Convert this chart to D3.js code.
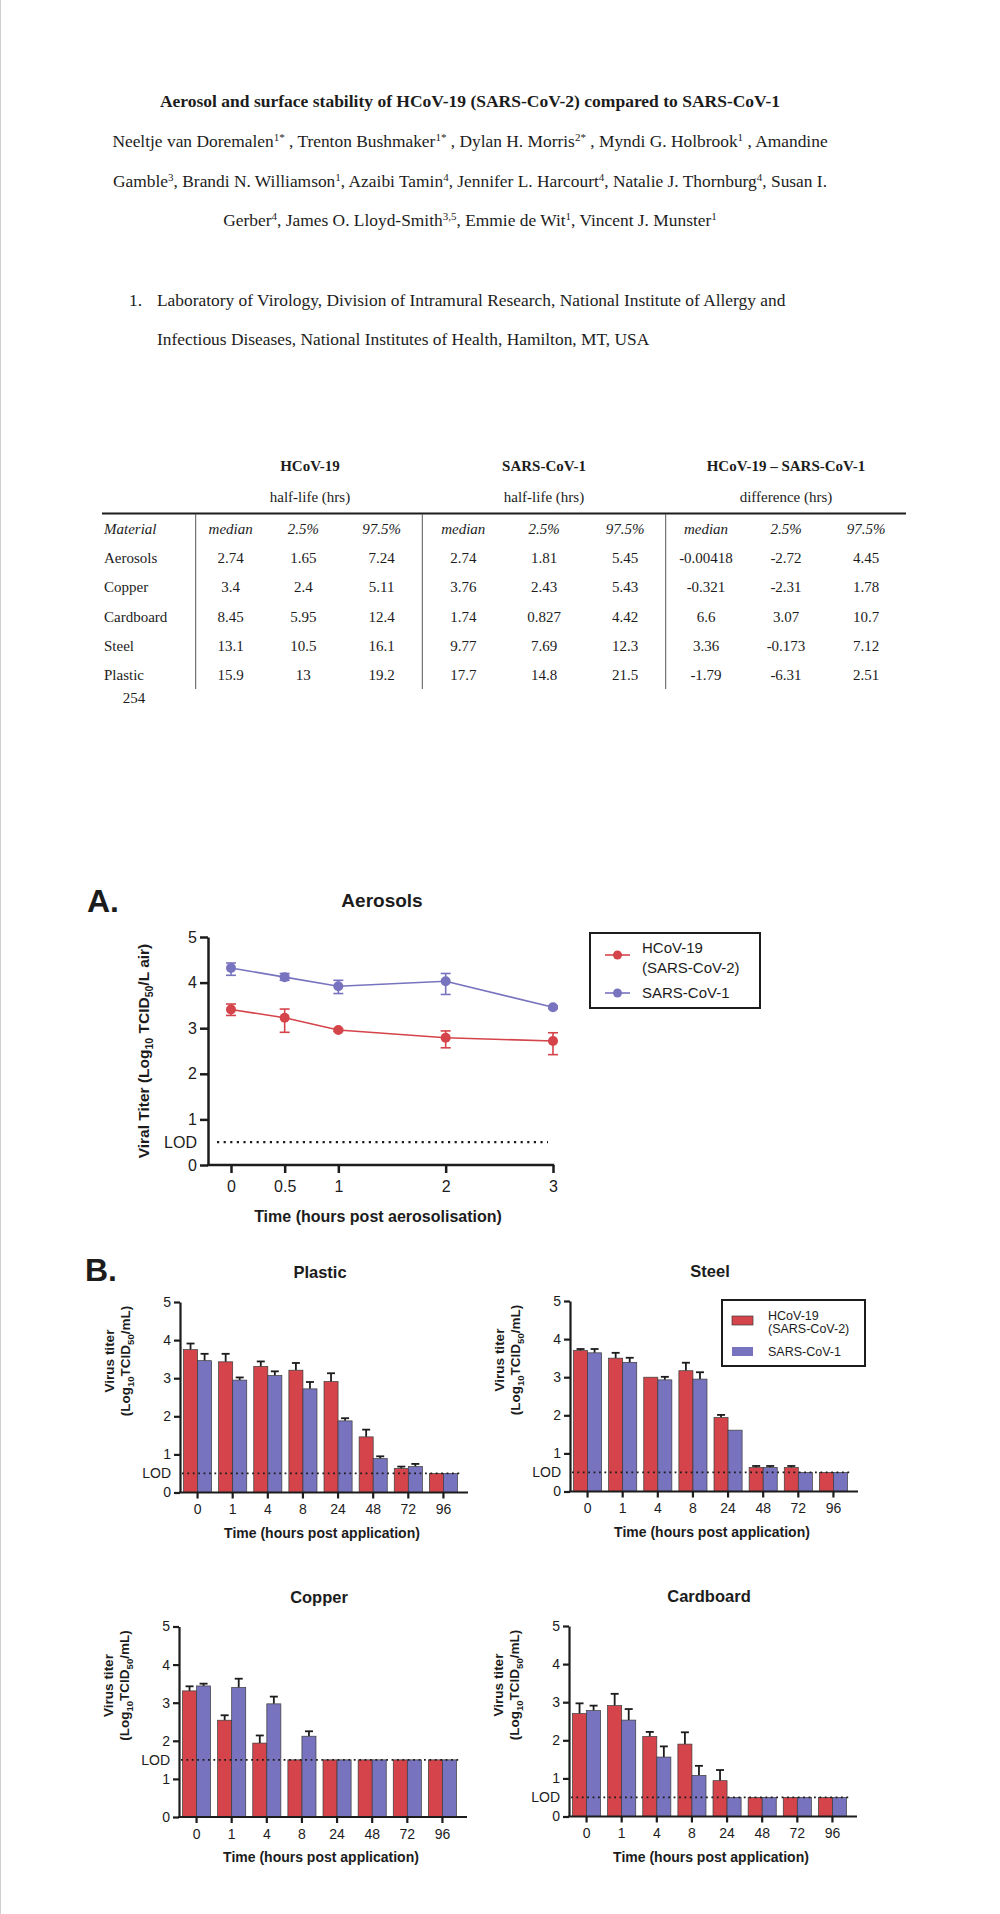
<!doctype html>
<html lang="en">
<head>
<meta charset="utf-8">
<title>Aerosol and surface stability of HCoV-19 (SARS-CoV-2) compared to SARS-CoV-1</title>
<script src="https://d3js.org/d3.v7.min.js"></script>
<style>
  body { margin: 0; background: #fff; }
  svg text { fill: #1c1c1c; }
  .serif { font-family: "Liberation Serif", "Times New Roman", serif; }
  .sans { font-family: "Liberation Sans", Arial, sans-serif; }
</style>
</head>
<body>
<div id="page"></div>
<script>
// ---------- table data ----------
const tableGroups = ['HCoV-19', 'SARS-CoV-1', 'HCoV-19 \u2013 SARS-CoV-1'];
const tableUnits = ['half-life (hrs)', 'half-life (hrs)', 'difference (hrs)'];
const tableStats = ['median', '2.5%', '97.5%'];
const tableRows = ['Aerosols', 'Copper', 'Cardboard', 'Steel', 'Plastic'];
const cov2HalfLife = [['2.74','1.65','7.24'], ['3.4','2.4','5.11'], ['8.45','5.95','12.4'], ['13.1','10.5','16.1'], ['15.9','13','19.2']];
const cov1HalfLife = [['2.74','1.81','5.45'], ['3.76','2.43','5.43'], ['1.74','0.827','4.42'], ['9.77','7.69','12.3'], ['17.7','14.8','21.5']];
const halfLifeDiff = [['-0.00418','-2.72','4.45'], ['-0.321','-2.31','1.78'], ['6.6','3.07','10.7'], ['3.36','-0.173','7.12'], ['-1.79','-6.31','2.51']];

// ---------- panel A: aerosols ----------
const aeroTimes = [0, 0.5, 1, 2, 3];
const aeroCov2 = [3.41, 3.23, 2.96, 2.79, 2.72];
const aeroCov2Lo = [3.28, 2.91, 2.93, 2.57, 2.42];
const aeroCov2Hi = [3.53, 3.42, 2.99, 2.94, 2.90];
const aeroCov1 = [4.32, 4.12, 3.92, 4.03, 3.46];
const aeroCov1Lo = [4.16, 4.05, 3.76, 3.74, 3.43];
const aeroCov1Hi = [4.43, 4.20, 4.05, 4.20, 3.49];
const aeroLod = 0.5;

// ---------- panel B: surfaces ----------
const surfTimes = ['0', '1', '4', '8', '24', '48', '72', '96'];
const yTicks = [0, 1, 2, 3, 4, 5];
const plasticCov2 = [3.75, 3.43, 3.31, 3.21, 2.91, 1.46, 0.63, 0.5];
const plasticCov2Err = [3.91, 3.64, 3.44, 3.40, 3.13, 1.65, 0.68, null];
const plasticCov1 = [3.46, 2.95, 3.07, 2.72, 1.88, 0.89, 0.68, 0.5];
const plasticCov1Err = [3.64, 3.02, 3.18, 2.90, 1.95, 0.95, 0.75, null];
const steelCov2 = [3.70, 3.50, 3.00, 3.17, 1.94, 0.63, 0.63, 0.5];
const steelCov2Err = [3.74, 3.64, null, 3.38, 2.01, 0.67, 0.67, null];
const steelCov1 = [3.64, 3.39, 2.93, 2.95, 1.61, 0.63, 0.5, 0.5];
const steelCov1Err = [3.74, 3.51, 3.01, 3.13, null, 0.67, null, null];
const copperCov2 = [3.31, 2.54, 1.94, 1.5, 1.5, 1.5, 1.5, 1.5];
const copperCov2Err = [3.43, 2.67, 2.14, null, null, null, null, null];
const copperCov1 = [3.44, 3.40, 2.97, 2.12, 1.5, 1.5, 1.5, 1.5];
const copperCov1Err = [3.50, 3.63, 3.16, 2.25, null, null, null, null];
const cardCov2 = [2.70, 2.91, 2.10, 1.90, 0.94, 0.5, 0.5, 0.5];
const cardCov2Err = [2.97, 3.22, 2.22, 2.21, 1.22, null, null, null];
const cardCov1 = [2.78, 2.53, 1.56, 1.08, 0.5, 0.5, 0.5, 0.5];
const cardCov1Err = [2.91, 2.82, 1.84, 1.33, null, null, null, null];

const RED = '#d4444a';
const PURPLE = '#7873bf';
const INK = '#1c1c1c';

const svg = d3.select('#page').append('svg')
    .attr('width', 1000)
    .attr('height', 1914);

// faint page edge
svg.append('line')
    .attr('x1', 0.5).attr('x2', 0.5).attr('y1', 0).attr('y2', 1914)
    .attr('stroke', '#cfcfcf');

// text with superscripts / subscripts: parts = [[text, 'sup'|'sub'|undefined]]
function richText(sel, parts, small) {
    parts.forEach(function(p) {
        const t = sel.append('tspan').text(p[0]);
        if (p[1]) {
            t.attr('font-size', small).attr('baseline-shift', p[1] === 'sup' ? 'super' : 'sub');
        }
    });
    return sel;
}

// ---------- header ----------
const headCx = 470;
svg.append('text').attr('class', 'serif')
    .attr('x', headCx).attr('y', 107)
    .attr('text-anchor', 'middle')
    .attr('font-size', 17.5).attr('font-weight', 'bold')
    .text('Aerosol and surface stability of HCoV-19 (SARS-CoV-2) compared to SARS-CoV-1');

const authorLines = [
    [['Neeltje van Doremalen'], ['1*', 'sup'], [' , Trenton Bushmaker'], ['1*', 'sup'], [' , Dylan H. Morris'], ['2*', 'sup'], [' , Myndi G. Holbrook'], ['1', 'sup'], [' , Amandine']],
    [['Gamble'], ['3', 'sup'], [', Brandi N. Williamson'], ['1', 'sup'], [', Azaibi Tamin'], ['4', 'sup'], [', Jennifer L. Harcourt'], ['4', 'sup'], [', Natalie J. Thornburg'], ['4', 'sup'], [', Susan I.']],
    [['Gerber'], ['4', 'sup'], [', James O. Lloyd-Smith'], ['3,5', 'sup'], [', Emmie de Wit'], ['1', 'sup'], [', Vincent J. Munster'], ['1', 'sup']]
];
authorLines.forEach(function(parts, i) {
    richText(svg.append('text').attr('class', 'serif')
        .attr('x', headCx).attr('y', 147 + i * 39.5)
        .attr('text-anchor', 'middle')
        .attr('font-size', 17.4), parts, 11);
});

svg.append('text').attr('class', 'serif')
    .attr('x', 129).attr('y', 306).attr('font-size', 17.4).text('1.');
svg.append('text').attr('class', 'serif')
    .attr('x', 157).attr('y', 306).attr('font-size', 17.4)
    .text('Laboratory of Virology, Division of Intramural Research, National Institute of Allergy and');
svg.append('text').attr('class', 'serif')
    .attr('x', 157).attr('y', 345).attr('font-size', 17.4)
    .text('Infectious Diseases, National Institutes of Health, Hamilton, MT, USA');

// ---------- table ----------
const table = svg.append('g').attr('class', 'serif').attr('font-size', 15);
const colX = [230.7, 303.3, 381.7, 463.3, 544, 625, 706, 786, 866];
const groupX = [310, 544, 786];
const sepX = [195.7, 422.3, 665.7];
const rowY = function(i) { return 534 + i * 29.2; };

tableGroups.forEach(function(g, i) {
    table.append('text').attr('x', groupX[i]).attr('y', 471)
        .attr('text-anchor', 'middle').attr('font-weight', 'bold').text(g);
    table.append('text').attr('x', groupX[i]).attr('y', 502)
        .attr('text-anchor', 'middle').text(tableUnits[i]);
});
table.append('line')
    .attr('x1', 102).attr('x2', 906).attr('y1', 513.5).attr('y2', 513.5)
    .attr('stroke', INK).attr('stroke-width', 2);
sepX.forEach(function(x) {
    table.append('line')
        .attr('x1', x).attr('x2', x).attr('y1', 514).attr('y2', 689)
        .attr('stroke', '#555').attr('stroke-width', 1);
});
table.append('text').attr('x', 104).attr('y', rowY(0))
    .attr('font-style', 'italic').text('Material');
colX.forEach(function(x, j) {
    table.append('text').attr('x', x).attr('y', rowY(0))
        .attr('text-anchor', 'middle').attr('font-style', 'italic')
        .text(tableStats[j % 3]);
});
tableRows.forEach(function(r, i) {
    table.append('text').attr('x', 104).attr('y', rowY(i + 1)).text(r);
    const vals = cov2HalfLife[i].concat(cov1HalfLife[i], halfLifeDiff[i]);
    vals.forEach(function(v, j) {
        table.append('text').attr('x', colX[j]).attr('y', rowY(i + 1))
            .attr('text-anchor', 'middle').text(v);
    });
});
table.append('text').attr('x', 134).attr('y', 703)
    .attr('text-anchor', 'middle').text('254');

// ---------- axis styling helper ----------
function styleAxis(g, fontSize, width) {
    g.selectAll('path, line').attr('stroke', INK).attr('stroke-width', width);
    g.selectAll('text').attr('class', 'sans').attr('font-size', fontSize).attr('fill', INK);
}

// ---------- panel A ----------
const A = svg.append('g').attr('class', 'sans');
A.append('text').attr('x', 87).attr('y', 912)
    .attr('font-size', 32).attr('font-weight', 'bold').text('A.');
A.append('text').attr('x', 382).attr('y', 907)
    .attr('text-anchor', 'middle').attr('font-size', 19).attr('font-weight', 'bold').text('Aerosols');

const ax = d3.scaleLinear().domain([0, 3]).range([231, 553]);
const ay = d3.scaleLinear().domain([0, 5]).range([1165, 937]);

const ayAxis = A.append('g').attr('transform', 'translate(208,0)')
    .call(d3.axisLeft(ay).tickValues(yTicks).tickFormat(d3.format('d'))
        .tickSize(8).tickSizeOuter(0).tickPadding(3));
styleAxis(ayAxis, 16, 2.5);
const axAxis = A.append('g').attr('transform', 'translate(0,1165)')
    .call(d3.axisBottom(ax).tickValues(aeroTimes).tickSize(8).tickSizeOuter(0).tickPadding(8).tickFormat(d3.format('')));
axAxis.select('.domain').remove();
styleAxis(axAxis, 16, 2.5);
A.append('line')
    .attr('x1', 207).attr('x2', ax(3) + 1.2).attr('y1', ay(0)).attr('y2', ay(0))
    .attr('stroke', INK).attr('stroke-width', 2.5);

A.append('line')
    .attr('x1', 217).attr('x2', 548).attr('y1', ay(aeroLod)).attr('y2', ay(aeroLod))
    .attr('stroke', INK).attr('stroke-width', 2.2).attr('stroke-dasharray', '2.2,4.4');
A.append('text').attr('x', 197).attr('y', ay(aeroLod)).attr('dy', '0.35em')
    .attr('text-anchor', 'end').attr('font-size', 16).text('LOD');

const aeroSeries = [
    { color: PURPLE, v: aeroCov1, lo: aeroCov1Lo, hi: aeroCov1Hi },
    { color: RED, v: aeroCov2, lo: aeroCov2Lo, hi: aeroCov2Hi }
];
aeroSeries.forEach(function(s) {
    const pts = aeroTimes.map(function(t, i) { return { t: t, v: s.v[i], lo: s.lo[i], hi: s.hi[i] }; });
    const g = A.append('g');
    g.append('path').datum(pts)
        .attr('fill', 'none').attr('stroke', s.color).attr('stroke-width', 1.6)
        .attr('d', d3.line().x(function(d) { return ax(d.t); }).y(function(d) { return ay(d.v); }));
    const eb = g.selectAll('.err').data(pts).enter().append('g');
    eb.append('line')
        .attr('x1', function(d) { return ax(d.t); }).attr('x2', function(d) { return ax(d.t); })
        .attr('y1', function(d) { return ay(d.lo); }).attr('y2', function(d) { return ay(d.hi); })
        .attr('stroke', s.color).attr('stroke-width', 1.6);
    ['lo', 'hi'].forEach(function(k) {
        eb.append('line')
            .attr('x1', function(d) { return ax(d.t) - 5; }).attr('x2', function(d) { return ax(d.t) + 5; })
            .attr('y1', function(d) { return ay(d[k]); }).attr('y2', function(d) { return ay(d[k]); })
            .attr('stroke', s.color).attr('stroke-width', 1.6);
    });
    g.selectAll('circle').data(pts).enter().append('circle')
        .attr('cx', function(d) { return ax(d.t); }).attr('cy', function(d) { return ay(d.v); })
        .attr('r', 5).attr('fill', s.color);
});

// y label A
richText(A.append('text')
    .attr('transform', 'translate(143,1051) rotate(-90)')
    .attr('text-anchor', 'middle').attr('dominant-baseline', 'central')
    .attr('font-size', 15.5).attr('font-weight', 'bold'),
    [['Viral Titer (Log'], ['10', 'sub'], [' TCID'], ['50', 'sub'], ['/L air)']], 10.5);
A.append('text').attr('x', 378).attr('y', 1222)
    .attr('text-anchor', 'middle').attr('font-size', 16).attr('font-weight', 'bold')
    .text('Time (hours post aerosolisation)');

// legend A
const legA = A.append('g');
legA.append('rect').attr('x', 590).attr('y', 933).attr('width', 170).attr('height', 75)
    .attr('fill', 'none').attr('stroke', INK).attr('stroke-width', 2);
[{ c: RED, y: 955, lines: ['HCoV-19', '(SARS-CoV-2)'] }, { c: PURPLE, y: 993, lines: ['SARS-CoV-1'] }].forEach(function(l) {
    legA.append('line').attr('x1', 605).attr('x2', 630).attr('y1', l.y).attr('y2', l.y)
        .attr('stroke', l.c).attr('stroke-width', 1.6);
    legA.append('circle').attr('cx', 617.5).attr('cy', l.y).attr('r', 4.5).attr('fill', l.c);
    l.lines.forEach(function(t, i) {
        legA.append('text').attr('x', 642)
            .attr('y', l.lines.length > 1 ? l.y - 7 + i * 20 : l.y)
            .attr('dy', '0.35em').attr('font-size', 15).text(t);
    });
});

// ---------- panel B ----------
svg.append('text').attr('class', 'sans').attr('x', 85).attr('y', 1281)
    .attr('font-size', 32).attr('font-weight', 'bold').text('B.');

const seriesKeys = ['cov2', 'cov1'];
const seriesColor = { cov2: RED, cov1: PURPLE };

function drawBars(cfg) {
    const g = svg.append('g').attr('class', 'sans');
    const y = d3.scaleLinear().domain([0, 5]).range([cfg.yTop + 190.5, cfg.yTop]);
    const x = d3.scaleBand().domain(surfTimes).range([cfg.x0, cfg.x0 + 281])
        .paddingInner(0.2).paddingOuter(0.1);
    const xs = d3.scaleBand().domain(seriesKeys).range([0, x.bandwidth()]);

    g.append('text').attr('x', cfg.x0 + 140).attr('y', cfg.yTop - 24)
        .attr('text-anchor', 'middle').attr('font-size', 16.5).attr('font-weight', 'bold')
        .text(cfg.name);

    const rows = [];
    surfTimes.forEach(function(t, i) {
        rows.push({ t: t, k: 'cov2', v: cfg.cov2[i], e: cfg.cov2Err[i] });
        rows.push({ t: t, k: 'cov1', v: cfg.cov1[i], e: cfg.cov1Err[i] });
    });
    const cx = function(d) { return x(d.t) + xs(d.k) + xs.bandwidth() / 2; };

    // error bars (upper only)
    const eb = g.append('g').selectAll('g').data(rows.filter(function(d) { return d.e != null; }))
        .enter().append('g').attr('stroke', INK).attr('stroke-width', 1.8);
    eb.append('line')
        .attr('x1', cx).attr('x2', cx)
        .attr('y1', function(d) { return y(d.v); }).attr('y2', function(d) { return y(d.e); });
    eb.append('line')
        .attr('x1', function(d) { return cx(d) - 4; }).attr('x2', function(d) { return cx(d) + 4; })
        .attr('y1', function(d) { return y(d.e); }).attr('y2', function(d) { return y(d.e); });

    g.append('g').selectAll('rect').data(rows).enter().append('rect')
        .attr('x', function(d) { return x(d.t) + xs(d.k); })
        .attr('y', function(d) { return y(d.v); })
        .attr('width', xs.bandwidth())
        .attr('height', function(d) { return y(0) - y(d.v); })
        .attr('fill', function(d) { return seriesColor[d.k]; })
        .attr('stroke', '#3b3b3b').attr('stroke-width', 0.7);

    // limit of detection
    g.append('line')
        .attr('x1', cfg.x0 + 2).attr('x2', cfg.x0 + 281).attr('y1', y(cfg.lod)).attr('y2', y(cfg.lod))
        .attr('stroke', INK).attr('stroke-width', 1.8).attr('stroke-dasharray', '1.8,3.6');
    g.append('text').attr('x', cfg.x0 - 9).attr('y', y(cfg.lod)).attr('dy', '0.35em')
        .attr('text-anchor', 'end').attr('font-size', 14).text('LOD');

    const yAxis = g.append('g').attr('transform', 'translate(' + cfg.x0 + ',0)')
        .call(d3.axisLeft(y).tickValues(yTicks).tickFormat(d3.format('d'))
            .tickSize(6).tickSizeOuter(0).tickPadding(3));
    styleAxis(yAxis, 14, 2.2);
    const xAxis = g.append('g').attr('transform', 'translate(0,' + y(0) + ')')
        .call(d3.axisBottom(x).tickSize(6).tickSizeOuter(0).tickPadding(6));
    xAxis.select('.domain').remove();
    styleAxis(xAxis, 14, 2.2);
    g.append('line')
        .attr('x1', cfg.x0 - 1).attr('x2', cfg.x0 + 288).attr('y1', y(0)).attr('y2', y(0))
        .attr('stroke', INK).attr('stroke-width', 2.2);

    const yl = g.append('g').attr('font-size', 13.5).attr('font-weight', 'bold');
    yl.append('text')
        .attr('transform', 'translate(' + (cfg.x0 - 71) + ',' + (cfg.yTop + 59) + ') rotate(-90)')
        .attr('text-anchor', 'middle').attr('dominant-baseline', 'central')
        .text('Virus titer');
    richText(yl.append('text')
        .attr('transform', 'translate(' + (cfg.x0 - 55) + ',' + (cfg.yTop + 59) + ') rotate(-90)')
        .attr('text-anchor', 'middle').attr('dominant-baseline', 'central'),
        [['(Log'], ['10', 'sub'], ['TCID'], ['50', 'sub'], ['/mL)']], 9.5);
    g.append('text').attr('x', cfg.x0 + 142).attr('y', y(0) + 45)
        .attr('text-anchor', 'middle').attr('font-size', 14).attr('font-weight', 'bold')
        .text('Time (hours post application)');

    if (cfg.legend) {
        const lg = g.append('g');
        lg.append('rect').attr('x', cfg.x0 + 152).attr('y', cfg.yTop - 1)
            .attr('width', 143).attr('height', 66)
            .attr('fill', 'none').attr('stroke', INK).attr('stroke-width', 2);
        lg.append('rect').attr('x', cfg.x0 + 162).attr('y', cfg.yTop + 15)
            .attr('width', 21).attr('height', 9).attr('fill', RED).attr('stroke', '#3b3b3b').attr('stroke-width', 0.7);
        lg.append('rect').attr('x', cfg.x0 + 162).attr('y', cfg.yTop + 46)
            .attr('width', 21).attr('height', 9).attr('fill', PURPLE);
        [['HCoV-19', 15], ['(SARS-CoV-2)', 28], ['SARS-CoV-1', 51]].forEach(function(t) {
            lg.append('text').attr('x', cfg.x0 + 198).attr('y', cfg.yTop + t[1]).attr('dy', '0.35em')
                .attr('font-size', 12.5).text(t[0]);
        });
    }
}

drawBars({ name: 'Plastic', x0: 180, yTop: 1302, cov2: plasticCov2, cov2Err: plasticCov2Err, cov1: plasticCov1, cov1Err: plasticCov1Err, lod: 0.5 });
drawBars({ name: 'Steel', x0: 570, yTop: 1301, cov2: steelCov2, cov2Err: steelCov2Err, cov1: steelCov1, cov1Err: steelCov1Err, lod: 0.5, legend: true });
drawBars({ name: 'Copper', x0: 179, yTop: 1626.5, cov2: copperCov2, cov2Err: copperCov2Err, cov1: copperCov1, cov1Err: copperCov1Err, lod: 1.5 });
drawBars({ name: 'Cardboard', x0: 569, yTop: 1626, cov2: cardCov2, cov2Err: cardCov2Err, cov1: cardCov1, cov1Err: cardCov1Err, lod: 0.5 });
</script>
</body>
</html>
